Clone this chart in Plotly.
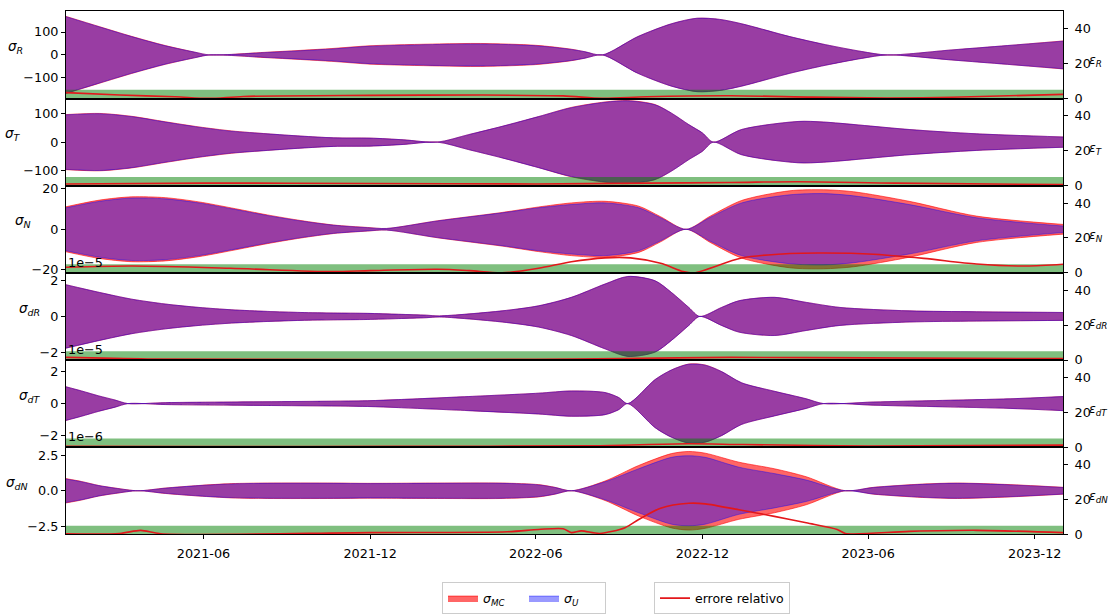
import plotly.graph_objects as go

# ---------------------------------------------------------------------------
# Uncertainty envelopes (±sigma) from Monte Carlo (MC) and unscented (U)
# propagation, plus the relative error between them (right axes, %).
# ---------------------------------------------------------------------------
T_START, T_END = "2021-01-01", "2024-01-01"
THRESH = 5.0  # acceptance band for the relative error

# --- sigma_R -----------------------------------------------------------------
t_R = ["2021-01-01", "2021-02-07", "2021-03-14", "2021-04-20", "2021-05-25", "2021-06-07",
       "2021-08-10", "2021-10-20", "2021-12-01", "2022-02-15", "2022-04-01", "2022-06-01",
       "2022-07-10", "2022-07-25", "2022-08-13", "2022-09-21", "2022-10-28", "2022-11-25",
       "2022-12-20", "2023-01-13", "2023-03-07", "2023-04-15", "2023-05-25", "2023-06-22",
       "2023-09-01", "2023-11-01", "2024-01-01"]
sU_R = [167, 122, 80, 40, 10, 0, 11, 26, 38, 46, 48, 40, 24, 14, 0, 80, 136, 160, 155,
        136, 80, 45, 15, 0, 22, 41, 60]
sMC_R = [168, 123, 81, 41, 10, 0, 12, 28, 40, 48, 50, 42, 25, 14, 0, 80, 136, 160, 155,
         136, 80, 45, 15, 0, 22, 41, 61]
te_R = ["2021-01-01", "2021-03-01", "2021-05-01", "2021-06-07", "2021-07-15", "2021-12-01",
        "2022-04-01", "2022-07-01", "2022-08-13", "2022-10-01", "2023-01-01", "2023-04-01",
        "2023-06-22", "2023-09-01", "2024-01-01"]
e_R = [3.4, 2.0, 1.0, 0.1, 1.2, 1.8, 2.0, 1.5, 0.1, 1.0, 1.6, 0.8, 0.3, 0.7, 2.4]

# --- sigma_T -----------------------------------------------------------------
t_T = ["2021-01-01", "2021-02-07", "2021-03-14", "2021-04-20", "2021-05-27", "2021-07-02",
       "2021-08-10", "2021-09-16", "2021-10-22", "2021-12-01", "2022-01-07", "2022-02-13",
       "2022-03-19", "2022-04-25", "2022-06-04", "2022-07-10", "2022-08-16", "2022-09-10",
       "2022-10-10", "2022-10-28", "2022-11-16", "2022-12-01", "2022-12-13", "2023-01-13",
       "2023-03-16", "2023-04-13", "2023-07-16", "2023-09-28", "2024-01-01"]
sU_T = [95, 99, 89, 70, 52, 38, 29, 21, 15, 14, 8, 0, 26, 55, 89, 120, 139, 144,
        130, 101, 61, 32, 0, 44, 72, 70, 44, 29, 18]
sMC_T = [96, 100, 90, 71, 53, 39, 29, 21, 15, 14, 8, 0, 26, 55, 89, 121, 140, 145,
         131, 101, 61, 32, 0, 44, 72, 70, 44, 29, 18]
te_T = ["2021-01-01", "2021-06-01", "2021-12-01", "2022-06-01", "2022-10-01", "2023-01-01",
        "2023-03-15", "2023-07-01", "2024-01-01"]
e_T = [1.0, 1.5, 1.3, 1.0, 1.5, 1.8, 2.3, 1.5, 0.6]

# --- sigma_N -----------------------------------------------------------------
t_N = ["2021-01-01", "2021-02-07", "2021-03-14", "2021-04-20", "2021-05-27", "2021-07-02",
       "2021-08-10", "2021-09-16", "2021-10-22", "2021-11-28", "2021-12-19", "2022-02-13",
       "2022-04-25", "2022-06-04", "2022-07-10", "2022-08-16", "2022-09-22", "2022-10-16",
       "2022-11-13", "2022-12-10", "2023-01-13", "2023-03-07", "2023-04-13", "2023-05-16",
       "2023-07-16", "2023-09-28", "2024-01-01"]
sU_N = [10.6, 13.8, 15.4, 15.0, 13.0, 10.1, 6.8, 4.1, 2.0, 0.8, 0.4, 4.1, 8.1, 10.6,
        12.2, 13.0, 10.6, 5.7, 0.0, 6.0, 13.0, 17.0, 17.6, 16.5, 12.2, 5.7, 1.6]
sMC_N = [11.1, 14.4, 16.0, 15.6, 13.5, 10.5, 7.1, 4.3, 2.1, 0.9, 0.4, 4.2, 8.3, 11.0,
         13.0, 13.8, 11.4, 6.2, 0.0, 6.6, 14.2, 19.0, 19.5, 18.5, 13.8, 6.5, 2.4]
te_N = ["2021-01-01", "2021-03-15", "2021-07-01", "2021-10-20", "2021-12-01", "2022-02-13",
        "2022-03-20", "2022-04-25", "2022-06-04", "2022-07-10", "2022-08-16", "2022-09-13",
        "2022-10-16", "2022-11-10", "2022-11-22", "2023-01-13", "2023-03-07", "2023-04-13",
        "2023-06-07", "2023-08-01", "2023-09-28", "2023-11-22", "2024-01-01"]
e_N = [3.2, 3.9, 2.6, 0.7, 1.3, 2.1, 1.3, 0.0, 2.6, 6.4, 8.6, 8.6, 5.5, 0.7, 0.0, 8.5,
       11.1, 11.4, 10.7, 8.3, 5.1, 3.9, 4.9]

# --- sigma_dR (units of 1e-5) ------------------------------------------------
t_dR = ["2021-01-01", "2021-02-07", "2021-03-14", "2021-04-20", "2021-05-27", "2021-07-02",
        "2021-08-10", "2021-09-16", "2021-10-22", "2021-11-28", "2022-01-01", "2022-02-01",
        "2022-02-15", "2022-04-25", "2022-06-04", "2022-07-10", "2022-08-16", "2022-09-10",
        "2022-10-10", "2022-10-28", "2022-11-16", "2022-11-28", "2022-12-22", "2023-01-10",
        "2023-02-18", "2023-03-25", "2023-05-01", "2023-07-16", "2023-09-28", "2024-01-01"]
sU_dR = [1.76, 1.33, 0.96, 0.69, 0.50, 0.37, 0.28, 0.22, 0.19, 0.17, 0.12, 0.07, 0.03,
         0.31, 0.59, 1.06, 1.80, 2.22, 1.98, 1.33, 0.50, 0.0, 0.50, 0.87, 1.06, 0.78,
         0.50, 0.31, 0.26, 0.22]
sMC_dR = [1.76, 1.33, 0.96, 0.69, 0.50, 0.37, 0.28, 0.22, 0.19, 0.17, 0.12, 0.07, 0.03,
          0.31, 0.59, 1.06, 1.80, 2.22, 1.98, 1.33, 0.50, 0.0, 0.50, 0.87, 1.06, 0.78,
          0.50, 0.31, 0.26, 0.22]
te_dR = ["2021-01-01", "2021-04-01", "2021-12-01", "2022-06-01", "2022-09-01", "2023-01-01",
         "2023-06-01", "2024-01-01"]
e_dR = [1.5, 0.6, 0.3, 0.4, 0.8, 1.5, 1.2, 0.8]

# --- sigma_dT (units of 1e-5) ------------------------------------------------
t_dT = ["2021-01-01", "2021-01-18", "2021-02-06", "2021-02-24", "2021-03-10", "2021-04-20",
        "2021-07-02", "2021-11-28", "2022-01-01", "2022-03-19", "2022-06-04", "2022-07-10",
        "2022-08-16", "2022-08-31", "2022-09-10", "2022-10-10", "2022-10-28", "2022-11-16",
        "2022-12-04", "2022-12-22", "2023-01-13", "2023-02-18", "2023-03-25", "2023-04-13",
        "2023-06-07", "2023-08-22", "2023-11-04", "2024-01-01"]
sU_dT = [1.05, 0.79, 0.48, 0.22, 0.0, 0.06, 0.10, 0.18, 0.25, 0.44, 0.65, 0.79, 0.69,
         0.38, 0.0, 1.5, 2.1, 2.46, 2.4, 2.0, 1.3, 0.77, 0.3, 0.0, 0.1, 0.2, 0.3, 0.44]
sMC_dT = [1.05, 0.79, 0.48, 0.22, 0.0, 0.06, 0.10, 0.18, 0.25, 0.44, 0.65, 0.79, 0.69,
          0.38, 0.0, 1.5, 2.1, 2.47, 2.41, 2.0, 1.3, 0.77, 0.3, 0.0, 0.1, 0.2, 0.3, 0.44]
te_dT = ["2021-01-01", "2021-06-01", "2022-01-01", "2022-08-01", "2022-11-15", "2023-01-15",
         "2023-06-01", "2024-01-01"]
e_dT = [0.5, 0.3, 0.5, 0.8, 2.0, 1.5, 0.7, 1.2]

# --- sigma_dN (units of 1e-6) ------------------------------------------------
t_dN = ["2021-01-01", "2021-01-18", "2021-02-06", "2021-02-24", "2021-03-21", "2021-04-20",
        "2021-05-27", "2021-07-02", "2021-08-10", "2021-10-22", "2021-11-28", "2022-02-13",
        "2022-04-25", "2022-06-04", "2022-06-22", "2022-07-10", "2022-08-16", "2022-09-22",
        "2022-10-28", "2022-11-16", "2022-12-04", "2023-01-10", "2023-02-18", "2023-03-25",
        "2023-05-07", "2023-06-07", "2023-07-31", "2023-09-07", "2023-11-04", "2024-01-01"]
sU_dN = [0.82, 0.63, 0.36, 0.18, 0.0, 0.18, 0.36, 0.48, 0.52, 0.52, 0.50, 0.52, 0.52,
         0.41, 0.23, 0.0, 0.63, 1.54, 2.34, 2.45, 2.34, 1.65, 1.2, 0.75, 0.0, 0.23, 0.45,
         0.52, 0.41, 0.23]
sMC_dN = [0.85, 0.65, 0.37, 0.19, 0.0, 0.19, 0.37, 0.50, 0.54, 0.54, 0.52, 0.54, 0.54,
          0.43, 0.24, 0.0, 0.68, 1.77, 2.6, 2.75, 2.63, 2.0, 1.54, 0.98, 0.0, 0.24, 0.47,
          0.54, 0.43, 0.24]
te_dN = ["2021-01-01", "2021-03-01", "2021-03-24", "2021-04-15", "2021-12-01", "2022-05-01",
         "2022-06-04", "2022-07-01", "2022-07-10", "2022-07-21", "2022-08-10", "2022-09-07",
         "2022-09-22", "2022-10-16", "2022-11-16", "2022-12-04", "2023-01-10", "2023-02-18",
         "2023-03-25", "2023-04-28", "2023-05-07", "2023-07-16", "2023-09-28", "2024-01-01"]
e_dN = [0.3, 0.5, 2.3, 0.3, 1.0, 1.5, 2.8, 3.2, 1.0, 2.0, 0.5, 3.8, 8.5, 15, 17.8, 17.5,
        14.1, 10.3, 6.6, 2.8, 0.5, 1.7, 2.3, 1.0]

# x-axis ticks
x_ticks = ["2021-06-01", "2021-12-01", "2022-06-01", "2022-12-01", "2023-06-01", "2023-12-01"]
x_ticktext = ["2021-06", "2021-12", "2022-06", "2022-12", "2023-06", "2023-12"]

# panel definitions: (label, t, U, MC, t_err, err, y-limit, ticks, ticktext, offset)
panels = [
    ("R", t_R, sU_R, sMC_R, te_R, e_R, 190, [-100, 0, 100], ["−100", "0", "100"], None),
    ("T", t_T, sU_T, sMC_T, te_T, e_T, 152, [-100, 0, 100], ["−100", "0", "100"], None),
    ("N", t_N, sU_N, sMC_N, te_N, e_N, 21.5, [-20, 0, 20], ["−20", "0", "20"], None),
    ("dR", t_dR, sU_dR, sMC_dR, te_dR, e_dR, 2.42, [-2, 0, 2], ["−2", "0", "2"], "1e−5"),
    ("dT", t_dT, sU_dT, sMC_dT, te_dT, e_dT, 2.72, [-2, 0, 2], ["−2", "0", "2"], "1e−5"),
    ("dN", t_dN, sU_dN, sMC_dN, te_dN, e_dN, 3.05, [-2.5, 0, 2.5], ["−2.5", "0.0", "2.5"], "1e−6"),
]

# ---------------------------------------------------------------------------
W, H = 1109, 615
X_LEFT, X_RIGHT = 66, 1063
TOP, PANEL_H = 7.5, 88.75
FONT = "DejaVu Sans"
FS = 12.8

MC_FILL = "rgba(255,0,0,0.6)"
U_FILL = "rgba(0,0,255,0.4)"
GREEN_FILL = "rgba(0,128,0,0.5)"
ERR_COLOR = "#e3171b"

SIGMA_LABEL_RIGHT = [25, 23, 33, 42, 43, 30]


def px_x(x):
    return x / W


def px_y(y):
    return 1 - y / H


fig = go.Figure()
layout = dict(
    width=W, height=H,
    margin=dict(l=0, r=0, t=0, b=0),
    paper_bgcolor="white", plot_bgcolor="white",
    font=dict(family=FONT, size=FS, color="black"),
    showlegend=True,
)
annotations = []

n = len(panels)
for k, (lab, t, su, smc, te, err, ylim, yt, ytt, offset) in enumerate(panels):
    i = k + 1
    j = k + 1 + n
    xa = "x" if i == 1 else f"x{i}"
    ya = "y" if i == 1 else f"y{i}"
    ya2 = f"y{j}"
    top = TOP + PANEL_H * k
    bot = top + PANEL_H
    mid = (top + bot) / 2

    first = k == 0
    common = dict(xaxis=xa, yaxis=ya, mode="lines", line_shape="spline", hoverinfo="skip")

    # MC envelope
    fig.add_trace(go.Scatter(x=t, y=[-v for v in smc], line=dict(color=MC_FILL, width=1, smoothing=0.8),
                             showlegend=False, **common))
    fig.add_trace(go.Scatter(x=t, y=smc, fill="tonexty", fillcolor=MC_FILL,
                             line=dict(color=MC_FILL, width=1, smoothing=0.8),
                             name="<i>σ<sub>MC</sub></i>", legend="legend",
                             showlegend=first, **common))
    # Unscented envelope
    fig.add_trace(go.Scatter(x=t, y=[-v for v in su], line=dict(color=U_FILL, width=1, smoothing=0.8),
                             showlegend=False, **common))
    fig.add_trace(go.Scatter(x=t, y=su, fill="tonexty", fillcolor=U_FILL,
                             line=dict(color=U_FILL, width=1, smoothing=0.8),
                             name="<i>σ<sub>U</sub></i>", legend="legend",
                             showlegend=first, **common))

    # acceptance band and relative error on the twin axis
    fig.add_trace(go.Scatter(x=[T_START, T_END], y=[THRESH, THRESH], xaxis=xa, yaxis=ya2,
                             mode="lines", fill="tozeroy", fillcolor=GREEN_FILL,
                             line=dict(width=0), showlegend=False, hoverinfo="skip"))
    fig.add_trace(go.Scatter(x=te, y=err, xaxis=xa, yaxis=ya2, mode="lines",
                             line=dict(color=ERR_COLOR, width=1.6, shape="spline", smoothing=0.8),
                             name="errore relativo", legend="legend2",
                             showlegend=first, hoverinfo="skip"))

    dom = [px_y(bot), px_y(top)]
    last = k == n - 1
    layout["xaxis" if i == 1 else f"xaxis{i}"] = dict(
        domain=[px_x(X_LEFT), px_x(X_RIGHT)], anchor=ya, type="date",
        range=[T_START, T_END], showgrid=False, zeroline=False,
        showline=True, mirror=True, linecolor="black", linewidth=1,
        matches=None if i == 1 else "x",
        showticklabels=last, ticks="outside" if last else "",
        tickvals=x_ticks, ticktext=x_ticktext, ticklen=4, tickwidth=1, tickcolor="black",
        tickfont=dict(family=FONT, size=FS), ticklabelstandoff=3,
    )
    layout["yaxis" if i == 1 else f"yaxis{i}"] = dict(
        domain=dom, anchor=xa, range=[-ylim, ylim], showgrid=False, zeroline=False,
        showline=True, linecolor="black", linewidth=1,
        ticks="outside", ticklen=4, tickwidth=1, tickcolor="black",
        tickvals=yt, ticktext=ytt, tickfont=dict(family=FONT, size=FS),
    )
    layout[f"yaxis{j}"] = dict(
        overlaying=ya, side="right", anchor=xa, range=[0, 50],
        showgrid=False, zeroline=False, showline=True, linecolor="black", linewidth=1,
        ticks="outside", ticklen=4, tickwidth=1, tickcolor="black",
        tickvals=[0, 20, 40], ticktext=["0", "20", "40"], tickfont=dict(family=FONT, size=FS),
        ticklabelstandoff=4,
    )

    annotations.append(dict(
        x=px_x(SIGMA_LABEL_RIGHT[k]), y=px_y(mid - 8), xref="paper", yref="paper",
        xanchor="right", yanchor="middle", showarrow=False,
        text=f"<i>σ<sub>{lab}</sub></i>", font=dict(family=FONT, size=13.5),
    ))
    annotations.append(dict(
        x=px_x(1087), y=px_y(mid + 6), xref="paper", yref="paper",
        xanchor="left", yanchor="middle", showarrow=False,
        text=f"<i>ε<sub>{lab}</sub></i>", font=dict(family=FONT, size=12.5),
    ))
    if offset:
        annotations.append(dict(
            x=px_x(X_LEFT), y=px_y(top - 1), xref="paper", yref="paper",
            xanchor="left", yanchor="bottom", showarrow=False,
            text=offset, font=dict(family=FONT, size=FS),
        ))

layout["annotations"] = annotations
legend_common = dict(
    orientation="h", xanchor="left", yanchor="top", traceorder="normal",
    bordercolor="#cccccc", borderwidth=1, bgcolor="white",
    font=dict(family=FONT, size=12.5), itemwidth=30, tracegroupgap=0,
)
layout["legend"] = dict(x=px_x(442), y=px_y(589), entrywidth=36, entrywidthmode="pixels",
                        **legend_common)
layout["legend2"] = dict(x=px_x(654), y=px_y(589), **legend_common)

fig.update_layout(**layout)
fig.write_html("out.html")
